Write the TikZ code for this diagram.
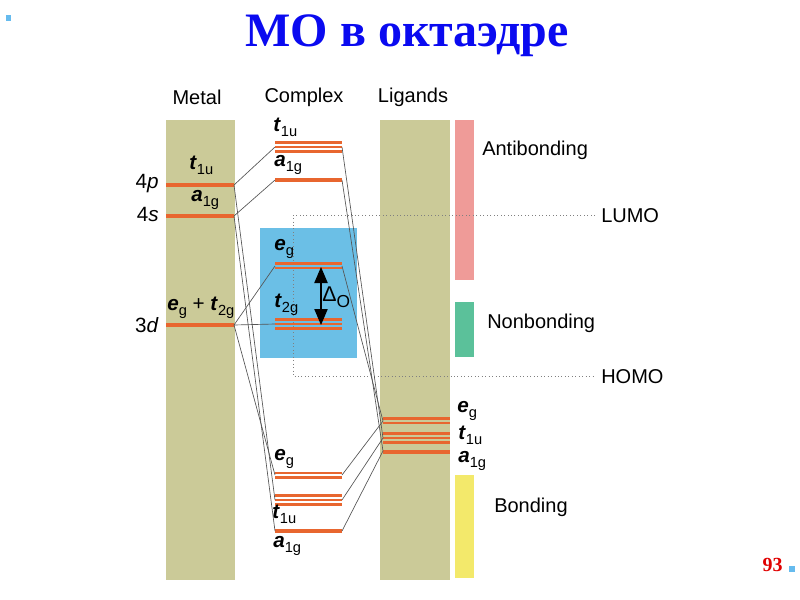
\documentclass[tikz,border=0pt]{standalone}
\usepackage{fontspec}
\setmainfont{Liberation Sans}
\newfontfamily\slidefont{Liberation Serif}
\usetikzlibrary{arrows.meta}
\definecolor{columntan}{HTML}{CBCA98}
\definecolor{levelorange}{HTML}{E8662F}
\definecolor{antipink}{HTML}{EF9B98}
\definecolor{nonbgreen}{HTML}{5BC19A}
\definecolor{bondyellow}{HTML}{F3E96B}
\definecolor{splitblue}{HTML}{6BBFE6}
\definecolor{linkgray}{HTML}{555555}
\definecolor{dotgray}{HTML}{808080}
\definecolor{titleblue}{HTML}{0A0AF0}
\definecolor{pagered}{HTML}{E00000}
\definecolor{bulletblue}{HTML}{66BBEE}
\newcommand{\orb}[2]{\textbf{\textit{#1}}\raisebox{-0.45ex}{\fontsize{11}{11}\selectfont #2}}
\tikzset{
  column/.style={fill=columntan, draw=none},
  level/.style={draw=levelorange, line width=2.6pt},
  sublevel/.style={draw=levelorange, line width=2.2pt},
  mixline/.style={draw=linkgray, line width=0.5pt},
  frontier/.style={draw=dotgray, dotted, line width=0.6pt},
  head/.style={font=\fontsize{15}{17}\selectfont, inner sep=0pt},
  orblabel/.style={font=\fontsize{15.5}{17}\selectfont, inner sep=0pt, anchor=west},
  bandlabel/.style={font=\fontsize{15}{17}\selectfont, inner sep=0pt, anchor=west},
  bullet/.style={fill=bulletblue, draw=none},
  splitarrow/.style={{Triangle[length=12pt,width=10pt]}-{Triangle[length=12pt,width=10pt]}, line width=0.8pt, draw=black}
}

\begin{document}
\begin{tikzpicture}[x=0.75pt, y=-0.75pt]
\useasboundingbox (0,0) rectangle (800,600);

% slide title and page number
\node[font=\slidefont\bfseries\fontsize{36}{40}\selectfont, text=titleblue] (title) at (407,36) {МО в октаэдре};
\fill[bullet] (6,15) rectangle (11,21);
\node[font=\slidefont\bfseries\fontsize{15}{17}\selectfont, text=pagered, anchor=east, inner sep=0pt] (page) at (783,565) {93};
\fill[bullet] (789,566) rectangle (795,572);

% columns and bands
\fill[column] (166,120) rectangle (235,580);
\fill[column] (380,120) rectangle (450,580);
\fill[antipink] (455,120) rectangle (474,280);
\fill[nonbgreen] (455,302) rectangle (474,357);
\fill[bondyellow] (455,475) rectangle (474,578);
\fill[splitblue] (260,228) rectangle (357,358);

\node[head] (metal) at (197,97) {Metal};
\node[head] (complex) at (304,97) {Complex};
\node[head] (ligands) at (413,97) {Ligands};

% connection points
\coordinate (m4p) at (234,185);
\coordinate (m4s) at (234,216);
\coordinate (m3d) at (234,325);
\coordinate (ct1uL) at (275,147);
\coordinate (ct1uR) at (342,147);
\coordinate (ca1gL) at (275,180);
\coordinate (ca1gR) at (342,180);
\coordinate (cegL) at (275,266);
\coordinate (cegR) at (342,266);
\coordinate (ct2gL) at (275,324);
\coordinate (bt1uL) at (275,500);
\coordinate (bt1uR) at (342,500);
\coordinate (ba1gL) at (275,531);
\coordinate (ba1gR) at (342,531);
\coordinate (begL) at (275,475);
\coordinate (begR) at (342,475);
\coordinate (leg) at (383,421);
\coordinate (lt1u) at (383,438);
\coordinate (la1g) at (383,451);

% LUMO / HOMO
\coordinate (lumoL) at (293,215);
\coordinate (lumoR) at (595,215);
\coordinate (homoL) at (293,376);
\coordinate (homoR) at (595,376);
\draw[frontier] (lumoR) -- (lumoL) -- (homoL) -- (homoR);

% levels
\draw[level] (166,185) -- (m4p);
\draw[level] (166,216) -- (m4s);
\draw[level] (166,325) -- (m3d);
\foreach \y in {142.5,147,151.5} \draw[sublevel] (275,\y) -- (342,\y);
\draw[level] (275,180) -- (342,180);
\foreach \y in {263.5,268} \draw[sublevel] (275,\y) -- (342,\y);
\foreach \y in {319.5,324,328.5} \draw[sublevel] (275,\y) -- (342,\y);
\foreach \y in {473,477.5} \draw[sublevel] (275,\y) -- (342,\y);
\foreach \y in {495.5,500,504.5} \draw[sublevel] (275,\y) -- (342,\y);
\draw[level] (275,531) -- (342,531);
\foreach \y in {418.5,423} \draw[sublevel] (383,\y) -- (450,\y);
\foreach \y in {433.5,438,442.5} \draw[sublevel] (383,\y) -- (450,\y);
\draw[level] (383,452) -- (450,452);

% correlation lines
\draw[mixline] (m4p) -- (ct1uL);
\draw[mixline] (m4p) -- (bt1uL);
\draw[mixline] (m4s) -- (ca1gL);
\draw[mixline] (m4s) -- (ba1gL);
\draw[mixline] (m3d) -- (cegL);
\draw[mixline] (m3d) -- (ct2gL);
\draw[mixline] (m3d) -- (begL);
\draw[mixline] (ct1uR) -- (lt1u);
\draw[mixline] (ca1gR) -- (la1g);
\draw[mixline] (cegR) -- (leg);
\draw[mixline] (begR) -- (leg);
\draw[mixline] (bt1uR) -- (lt1u);
\draw[mixline] (ba1gR) -- (la1g);

% splitting
\coordinate (dtop) at (321,267);
\coordinate (dbot) at (321,325);
\draw[splitarrow] (dtop) -- (dbot);
\node[orblabel, font=\fontsize{16}{18}\selectfont] (delta) at (322,297) {Δ\raisebox{-0.55ex}{\fontsize{13}{13}\selectfont O}};

% orbital labels
\node[orblabel, anchor=east] (l4p) at (159,184) {4\textit{p}};
\node[orblabel, anchor=east] (l4s) at (159,214) {4\textit{s}};
\node[orblabel, anchor=east] (l3d) at (159,325) {3\textit{d}};
\node[orblabel] (mt1u) at (189,165) {\orb{t}{1u}};
\node[orblabel] (ma1g) at (191,200) {\orb{a}{1g}};
\node[orblabel] (meg) at (167,308) {\orb{e}{g} + \orb{t}{2g}};
\node[orblabel] (ct1u) at (273,127) {\orb{t}{1u}};
\node[orblabel] (ca1g) at (274,165) {\orb{a}{1g}};
\node[orblabel] (ceg) at (274,249) {\orb{e}{g}};
\node[orblabel] (ct2g) at (274,305) {\orb{t}{2g}};
\node[orblabel] (beg) at (274,459) {\orb{e}{g}};
\node[orblabel] (bt1u) at (272,514) {\orb{t}{1u}};
\node[orblabel] (ba1g) at (273,546) {\orb{a}{1g}};
\node[orblabel] (leglab) at (457,411) {\orb{e}{g}};
\node[orblabel] (lt1ulab) at (458,435) {\orb{t}{1u}};
\node[orblabel] (la1glab) at (458,461) {\orb{a}{1g}};

% band labels
\node[bandlabel] (anti) at (482,150) {Antibonding};
\node[bandlabel] (nonb) at (487,323) {Nonbonding};
\node[bandlabel] (bond) at (494,507) {Bonding};
\node[bandlabel] (lumo) at (601,216) {LUMO};
\node[bandlabel] (homo) at (601,377) {HOMO};
\end{tikzpicture}
\end{document}
